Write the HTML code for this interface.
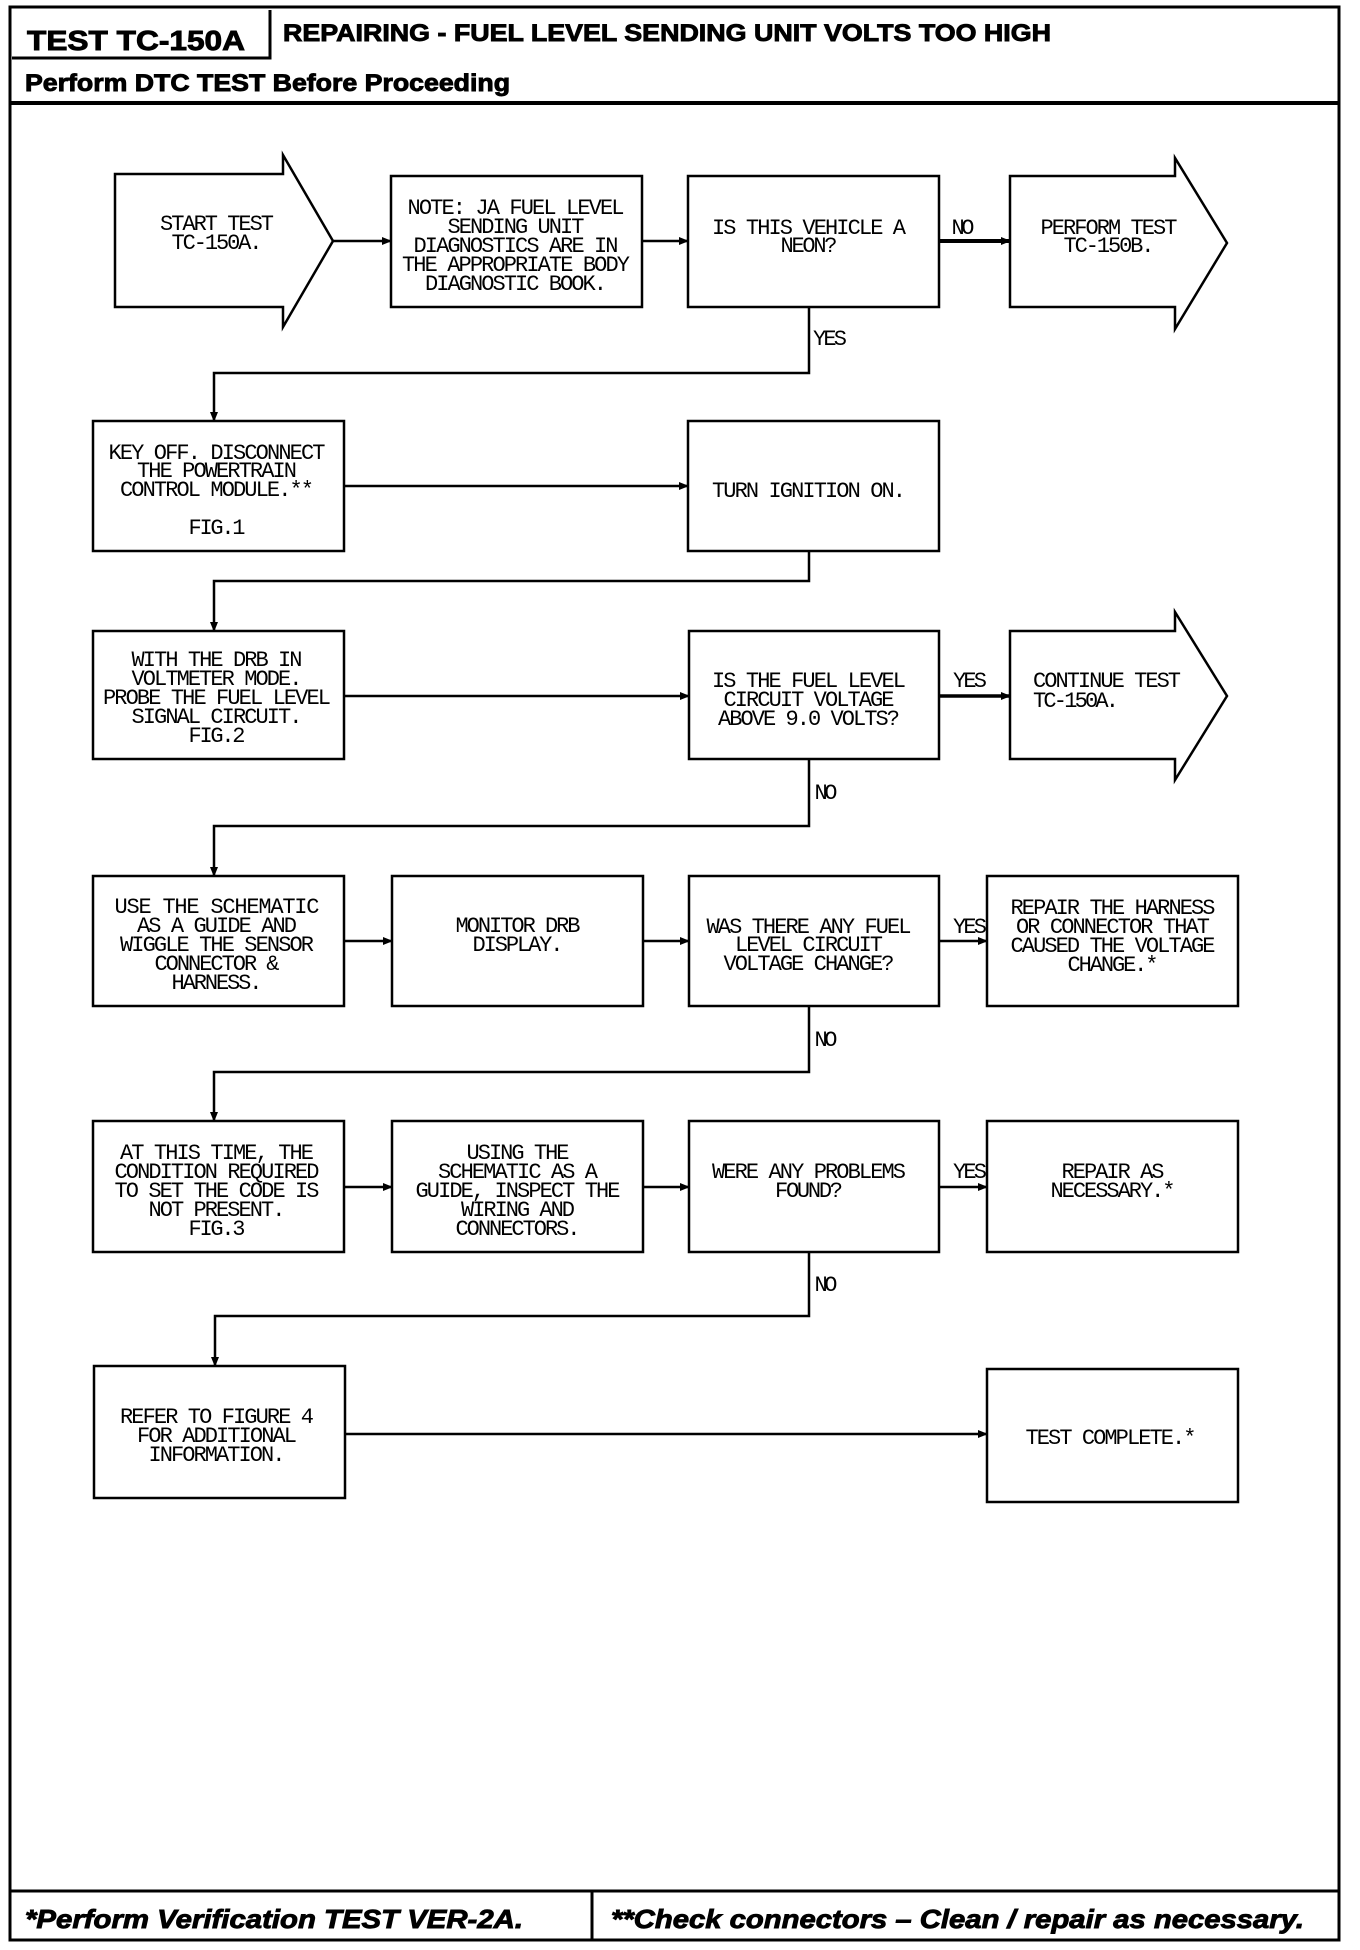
<!DOCTYPE html>
<html><head><meta charset="utf-8"><style>
html,body{margin:0;padding:0;background:#fff}
svg{display:block}
.m{font-family:"Liberation Mono",monospace;font-size:22px;fill:#000}
.h{font-family:"Liberation Sans",sans-serif;font-weight:bold;fill:#000;stroke:#000;stroke-width:0.9px}
</style></head><body>
<svg width="1360" height="1950" viewBox="0 0 1360 1950" xmlns="http://www.w3.org/2000/svg">
<defs><marker id="a" markerWidth="10" markerHeight="8" refX="9" refY="4" orient="auto" markerUnits="userSpaceOnUse"><path d="M0,0 L10,4 L0,8 z" fill="#000"/></marker></defs>
<g fill="none" stroke="#000">
<rect x="10" y="7" width="1329" height="1933" stroke-width="3"/>
<path d="M12,58 H270 V10" stroke-width="3"/>
<line x1="10" y1="103" x2="1339" y2="103" stroke-width="4"/>
<line x1="10" y1="1891" x2="1339" y2="1891" stroke-width="3"/>
<line x1="592" y1="1891" x2="592" y2="1940" stroke-width="3"/>
<g stroke-width="2.5">
<path d="M115,174 H283 V155 L333,241 L283,327 V307 H115 Z"/>
<rect x="391" y="176" width="251" height="131"/>
<rect x="688" y="176" width="251" height="131"/>
<path d="M1010,176 H1175 V158 L1227,243 L1175,329 V307 H1010 Z"/>
<rect x="93" y="421" width="251" height="130"/>
<rect x="688" y="421" width="251" height="130"/>
<rect x="93" y="631" width="251" height="128"/>
<rect x="689" y="631" width="250" height="128"/>
<path d="M1010,631 H1175 V612 L1227,696 L1175,780 V759 H1010 Z"/>
<rect x="93" y="876" width="251" height="130"/>
<rect x="392" y="876" width="251" height="130"/>
<rect x="689" y="876" width="250" height="130"/>
<rect x="987" y="876" width="251" height="130"/>
<rect x="93" y="1121" width="251" height="131"/>
<rect x="392" y="1121" width="251" height="131"/>
<rect x="689" y="1121" width="250" height="131"/>
<rect x="987" y="1121" width="251" height="131"/>
<rect x="94" y="1366" width="251" height="132"/>
<rect x="987" y="1369" width="251" height="133"/>
</g>
<g stroke-width="2.5" marker-end="url(#a)">
<line x1="333" y1="241" x2="391" y2="241"/>
<line x1="642" y1="241" x2="688" y2="241"/>
<line x1="939" y1="241" x2="1010" y2="241" stroke-width="4"/>
<path d="M809,307 V373 H214 V421"/>
<line x1="344" y1="486" x2="688" y2="486"/>
<path d="M809,551 V581 H214 V631"/>
<line x1="344" y1="696" x2="689" y2="696"/>
<line x1="939" y1="696" x2="1010" y2="696" stroke-width="3.5"/>
<path d="M809,759 V826 H214 V876"/>
<line x1="344" y1="941" x2="392" y2="941"/>
<line x1="643" y1="941" x2="689" y2="941"/>
<line x1="939" y1="941" x2="987" y2="941"/>
<path d="M809,1006 V1072 H214 V1121"/>
<line x1="344" y1="1187" x2="392" y2="1187"/>
<line x1="643" y1="1187" x2="689" y2="1187"/>
<line x1="939" y1="1187" x2="987" y2="1187"/>
<path d="M809,1252 V1316 H215 V1366"/>
<line x1="345" y1="1434" x2="987" y2="1434"/>
</g>
</g>
<text class="h" x="27" y="50" font-size="28" textLength="218" lengthAdjust="spacingAndGlyphs">TEST TC-150A</text>
<text class="h" x="283" y="41" font-size="24" textLength="768" lengthAdjust="spacingAndGlyphs">REPAIRING - FUEL LEVEL SENDING UNIT VOLTS TOO HIGH</text>
<text class="h" x="25" y="91" font-size="24" textLength="485" lengthAdjust="spacingAndGlyphs">Perform DTC TEST Before Proceeding</text>
<text class="h" x="25" y="1928" font-size="26" font-style="italic" textLength="498" lengthAdjust="spacingAndGlyphs">*Perform Verification TEST VER-2A.</text>
<text class="h" x="611" y="1928" font-size="26" font-style="italic" textLength="693" lengthAdjust="spacingAndGlyphs">**Check connectors – Clean / repair as necessary.</text>
<g class="m" text-anchor="middle" lengthAdjust="spacingAndGlyphs">
<text x="217" y="230" textLength="114">START TEST</text>
<text x="217" y="249" textLength="91">TC-150A.</text>
<text x="516" y="214" textLength="217">NOTE: JA FUEL LEVEL</text>
<text x="516" y="233" textLength="137">SENDING UNIT</text>
<text x="516" y="252" textLength="205">DIAGNOSTICS ARE IN</text>
<text x="516" y="271" textLength="228">THE APPROPRIATE BODY</text>
<text x="516" y="290" textLength="182">DIAGNOSTIC BOOK.</text>
<text x="809" y="234" textLength="194">IS THIS VEHICLE A</text>
<text x="809" y="252" textLength="57">NEON?</text>
<text x="963" y="234" textLength="23">NO</text>
<text x="1109" y="234" textLength="137">PERFORM TEST</text>
<text x="1109" y="252" textLength="91">TC-150B.</text>
<text x="830" y="345" textLength="34">YES</text>
<text x="217" y="459" textLength="217">KEY OFF. DISCONNECT</text>
<text x="217" y="477" textLength="160">THE POWERTRAIN</text>
<text x="217" y="496" textLength="194">CONTROL MODULE.**</text>
<text x="217" y="534" textLength="57">FIG.1</text>
<text x="809" y="497" textLength="194">TURN IGNITION ON.</text>
<text x="217" y="666" textLength="171">WITH THE DRB IN</text>
<text x="217" y="685" textLength="171">VOLTMETER MODE.</text>
<text x="217" y="704" textLength="228">PROBE THE FUEL LEVEL</text>
<text x="217" y="723" textLength="171">SIGNAL CIRCUIT.</text>
<text x="217" y="742" textLength="57">FIG.2</text>
<text x="809" y="687" textLength="194">IS THE FUEL LEVEL</text>
<text x="809" y="706" textLength="171">CIRCUIT VOLTAGE</text>
<text x="809" y="725" textLength="182">ABOVE 9.0 VOLTS?</text>
<text x="970" y="687" textLength="34">YES</text>
<text x="1107" y="687" textLength="148">CONTINUE TEST</text>
<text x="1076" y="707" textLength="86">TC-150A.</text>
<text x="826" y="799" textLength="23">NO</text>
<text x="217" y="913" textLength="205">USE THE SCHEMATIC</text>
<text x="217" y="932" textLength="160">AS A GUIDE AND</text>
<text x="217" y="951" textLength="194">WIGGLE THE SENSOR</text>
<text x="217" y="970" textLength="125">CONNECTOR &amp;</text>
<text x="217" y="989" textLength="91">HARNESS.</text>
<text x="518" y="932" textLength="125">MONITOR DRB</text>
<text x="518" y="951" textLength="91">DISPLAY.</text>
<text x="809" y="933" textLength="205">WAS THERE ANY FUEL</text>
<text x="809" y="951" textLength="148">LEVEL CIRCUIT</text>
<text x="809" y="970" textLength="171">VOLTAGE CHANGE?</text>
<text x="970" y="933" textLength="34">YES</text>
<text x="1113" y="914" textLength="205">REPAIR THE HARNESS</text>
<text x="1113" y="933" textLength="194">OR CONNECTOR THAT</text>
<text x="1113" y="952" textLength="205">CAUSED THE VOLTAGE</text>
<text x="1113" y="971" textLength="91">CHANGE.*</text>
<text x="826" y="1046" textLength="23">NO</text>
<text x="217" y="1159" textLength="194">AT THIS TIME, THE</text>
<text x="217" y="1178" textLength="205">CONDITION REQUIRED</text>
<text x="217" y="1197" textLength="205">TO SET THE CODE IS</text>
<text x="217" y="1216" textLength="137">NOT PRESENT.</text>
<text x="217" y="1235" textLength="57">FIG.3</text>
<text x="518" y="1159" textLength="103">USING THE</text>
<text x="518" y="1178" textLength="160">SCHEMATIC AS A</text>
<text x="518" y="1197" textLength="205">GUIDE, INSPECT THE</text>
<text x="518" y="1216" textLength="114">WIRING AND</text>
<text x="518" y="1235" textLength="125">CONNECTORS.</text>
<text x="809" y="1178" textLength="194">WERE ANY PROBLEMS</text>
<text x="809" y="1197" textLength="68">FOUND?</text>
<text x="970" y="1178" textLength="34">YES</text>
<text x="1113" y="1178" textLength="103">REPAIR AS</text>
<text x="1113" y="1197" textLength="125">NECESSARY.*</text>
<text x="826" y="1291" textLength="23">NO</text>
<text x="217" y="1423" textLength="194">REFER TO FIGURE 4</text>
<text x="217" y="1442" textLength="160">FOR ADDITIONAL</text>
<text x="217" y="1461" textLength="137">INFORMATION.</text>
<text x="1111" y="1444" textLength="171">TEST COMPLETE.*</text>
</g>
</svg>
</body></html>
